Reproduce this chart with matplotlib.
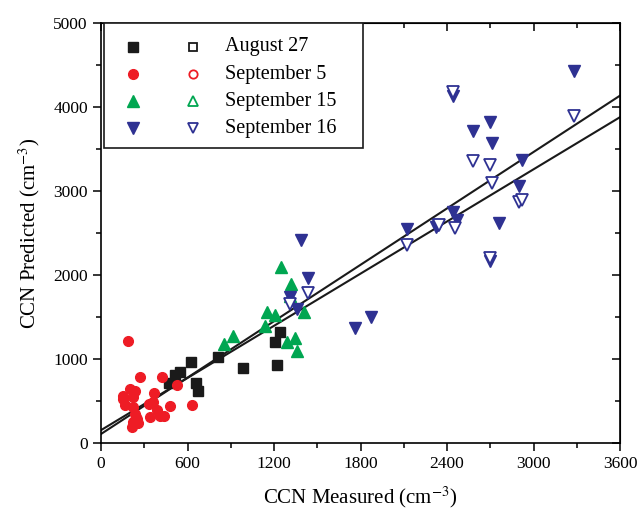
import matplotlib
matplotlib.use("Agg")
import matplotlib.pyplot as plt
from matplotlib.patches import Rectangle
from matplotlib.ticker import MultipleLocator
import numpy as np

plt.rcParams['font.family'] = ['Liberation Serif', 'DejaVu Serif']
plt.rcParams['mathtext.fontset'] = 'stix'

# ---- data (CCN measured, CCN predicted) ----
aug27_x = [475, 515, 545, 625, 660, 675, 815, 985, 1210, 1220, 1240]
aug27_y = [710, 815, 840, 965, 715, 625, 1025, 895, 1200, 930, 1325]

sep5_x = [190, 270, 425, 150, 200, 235, 225, 165, 225, 365, 360, 525, 480, 630,
          385, 410, 340, 245, 225, 260, 215, 435, 235, 150, 250, 330]
sep5_y = [1220, 780, 790, 560, 640, 620, 550, 455, 430, 590, 490, 690, 440, 455,
          395, 320, 305, 310, 255, 235, 195, 325, 340, 520, 280, 470]

sep15_x = [855, 915, 1135, 1150, 1205, 1250, 1290, 1315, 1345, 1360, 1410, 1310]
sep15_y = [1175, 1275, 1390, 1555, 1525, 2100, 1200, 1890, 1245, 1095, 1565, 1750]

sep16_x = [1310, 1360, 1385, 1435, 1760, 1870, 2125, 2325, 2340, 2445, 2470,
           2445, 2580, 2695, 2715, 2760, 2695, 2900, 2920, 3280]
sep16_y = [1740, 1590, 2415, 1970, 1365, 1505, 2545, 2575, 2600, 2745, 2655,
           4130, 3720, 3825, 3570, 2625, 2170, 3065, 3370, 4430]

sep16_open_x = [1310, 1435, 2125, 2345, 2455, 2445, 2580, 2695, 2715, 2695, 2900, 2920, 3280]
sep16_open_y = [1655, 1790, 2355, 2590, 2555, 4175, 3360, 3310, 3100, 2205, 2870, 2890, 3890]

# regression lines: intercept, slope
fit_intercepts = [107, 153]
fit_slopes = [1.119, 1.035]

labels = ['August 27', 'September 5', 'September 15', 'September 16']
colors = ['#1a1a1a', '#ee1c25', '#00a651', '#2e3192']
markers = ['s', 'o', '^', 'v']
msizes = [6.5, 7, 8, 8]

fig = plt.figure(figsize=(6.38, 5.15), dpi=100)
ax = fig.add_axes([101/638, 1-443/515, 519/638, 420/515])

xs = np.array([0, 3600])
for a, b in zip(fit_intercepts, fit_slopes):
    ax.plot(xs, a + b*xs, color='#1a1a1a', lw=1.5, zorder=2)

series = [(aug27_x, aug27_y), (sep5_x, sep5_y), (sep15_x, sep15_y), (sep16_x, sep16_y)]
for (x, y), c, m, s in zip(series, colors, markers, msizes):
    ax.plot(x, y, ls='none', marker=m, ms=s, color=c, mec=c, zorder=3)
ax.plot(sep16_open_x, sep16_open_y, ls='none', marker='v', ms=8, mfc='white',
        mec=colors[3], mew=1.3, zorder=3)

ax.set_xlim(0, 3600)
ax.set_ylim(0, 5000)
ax.xaxis.set_major_locator(MultipleLocator(600))
ax.xaxis.set_minor_locator(MultipleLocator(300))
ax.yaxis.set_major_locator(MultipleLocator(1000))
ax.yaxis.set_minor_locator(MultipleLocator(500))
ax.tick_params(which='both', direction='out', width=1.1, labelsize=12.5, top=False, right=False)
ax.tick_params(which='major', length=6)
ax.tick_params(which='minor', length=3.5)
for sp in ax.spines.values():
    sp.set_linewidth(1.2)
# mirrored inward ticks on top/right
axt = ax.secondary_xaxis('top')
axt.xaxis.set_major_locator(MultipleLocator(600))
axt.xaxis.set_minor_locator(MultipleLocator(300))
axt.tick_params(which='both', direction='in', labeltop=False, width=1.1)
axt.tick_params(which='major', length=6)
axt.tick_params(which='minor', length=3.5)
axr = ax.secondary_yaxis('right')
axr.yaxis.set_major_locator(MultipleLocator(1000))
axr.yaxis.set_minor_locator(MultipleLocator(500))
axr.tick_params(which='both', direction='in', labelright=False, width=1.1)
axr.tick_params(which='major', length=6)
axr.tick_params(which='minor', length=3.5)

ax.set_xlabel('CCN Measured (cm$^{-3}$)', fontsize=15, labelpad=9)
ax.set_ylabel('CCN Predicted (cm$^{-3}$)', fontsize=15, labelpad=8)

# manual legend
ax.add_patch(Rectangle((0.006, 0.702), 0.499, 0.298, transform=ax.transAxes,
                       fill=True, facecolor='white', edgecolor='#1a1a1a', lw=1.2, zorder=5))
rows = [0.943, 0.878, 0.814, 0.750]
for ry, lab, c, m, s in zip(rows, labels, colors, markers, msizes):
    ax.plot([0.0617], [ry], transform=ax.transAxes, ls='none', marker=m, ms=s,
            color=c, zorder=6, clip_on=False)
    ax.plot([0.177], [ry], transform=ax.transAxes, ls='none', marker=m, ms=s-1,
            mfc='white', mec=c, mew=1.3, zorder=6, clip_on=False)
    ax.text(0.239, ry, lab, transform=ax.transAxes, fontsize=14.5, va='center',
            ha='left', zorder=6)

fig.savefig('out.png', dpi=100)
